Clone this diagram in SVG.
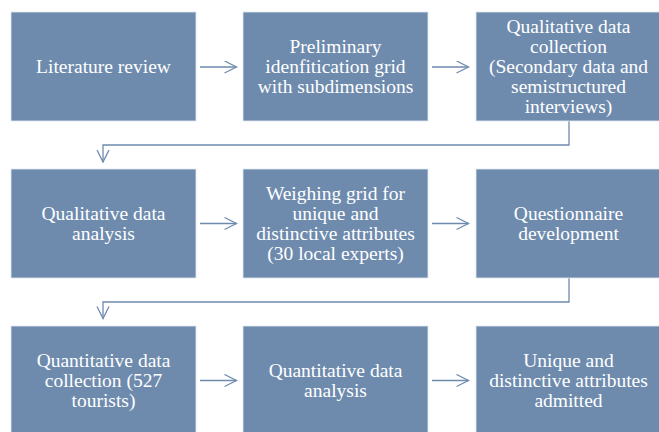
<svg xmlns="http://www.w3.org/2000/svg" width="659" height="432" viewBox="0 0 659 432">
<style>
.box{fill:#6E8BAE;stroke:#E4EAF2;stroke-width:0.8}
.t{font-family:'Liberation Serif','Times New Roman',Times,serif;font-size:19.5px;fill:#FFFFFF;text-anchor:middle}
.c{fill:none;stroke:#6E8BAE;stroke-width:1.3}
</style>
<defs>
<marker id="ah" markerUnits="userSpaceOnUse" markerWidth="14" markerHeight="14" refX="12.5" refY="6.5" orient="auto" viewBox="0 0 14 14">
<path d="M0.5,0.5 L12.5,6.5 L0.5,12.5" fill="none" stroke="#6E8BAE" stroke-width="1.3"/>
</marker>
</defs>
<rect width="659" height="432" fill="#FFFFFF"/>
<g id="connectors">
<line class="c" x1="200" y1="67" x2="236.5" y2="67" marker-end="url(#ah)"/>
<line class="c" x1="432" y1="67" x2="468.5" y2="67" marker-end="url(#ah)"/>
<polyline class="c" points="569,121 569,145 103,145 103,162" marker-end="url(#ah)"/>
<line class="c" x1="200" y1="223.5" x2="236.5" y2="223.5" marker-end="url(#ah)"/>
<line class="c" x1="432" y1="223.5" x2="468.5" y2="223.5" marker-end="url(#ah)"/>
<polyline class="c" points="569,278 569,302 103,302 103,318.5" marker-end="url(#ah)"/>
<line class="c" x1="200" y1="380.5" x2="236.5" y2="380.5" marker-end="url(#ah)"/>
<line class="c" x1="432" y1="380.5" x2="468.5" y2="380.5" marker-end="url(#ah)"/>
</g>
<g font-family="'Liberation Serif', 'DejaVu Serif', serif">
<g id="n1"><rect class="box" x="11" y="12" width="185" height="109"/>
<text class="t" x="103.5" y="72.5">Literature review</text></g>
<g id="n2"><rect class="box" x="243" y="12" width="185" height="109"/>
<text class="t" x="335.5" y="52.5">Preliminary</text>
<text class="t" x="335.5" y="72.5">idenfitication grid</text>
<text class="t" x="335.5" y="92.5">with subdimensions</text></g>
<g id="n3"><rect class="box" x="476" y="12" width="185" height="109"/>
<text class="t" x="568.5" y="32.5">Qualitative data</text>
<text class="t" x="568.5" y="52.5">collection</text>
<text class="t" x="568.5" y="72.5">(Secondary data and</text>
<text class="t" x="568.5" y="92.5">semistructured</text>
<text class="t" x="568.5" y="112.5">interviews)</text></g>
<g id="n4"><rect class="box" x="11" y="169" width="185" height="109"/>
<text class="t" x="103.5" y="219.5">Qualitative data</text>
<text class="t" x="103.5" y="239.5">analysis</text></g>
<g id="n5"><rect class="box" x="243" y="169" width="185" height="109"/>
<text class="t" x="335.5" y="199.5">Weighing grid for</text>
<text class="t" x="335.5" y="219.5">unique and</text>
<text class="t" x="335.5" y="239.5">distinctive attributes</text>
<text class="t" x="335.5" y="259.5">(30 local experts)</text></g>
<g id="n6"><rect class="box" x="476" y="169" width="185" height="109"/>
<text class="t" x="568.5" y="219.5">Questionnaire</text>
<text class="t" x="568.5" y="239.5">development</text></g>
<g id="n7"><rect class="box" x="11" y="326" width="185" height="109"/>
<text class="t" x="103.5" y="366.5">Quantitative data</text>
<text class="t" x="103.5" y="386.5">collection (527</text>
<text class="t" x="103.5" y="406.5">tourists)</text></g>
<g id="n8"><rect class="box" x="243" y="326" width="185" height="109"/>
<text class="t" x="335.5" y="376.5">Quantitative data</text>
<text class="t" x="335.5" y="396.5">analysis</text></g>
<g id="n9"><rect class="box" x="476" y="326" width="185" height="109"/>
<text class="t" x="568.5" y="366.5">Unique and</text>
<text class="t" x="568.5" y="386.5">distinctive attributes</text>
<text class="t" x="568.5" y="406.5">admitted</text></g>
</g>
</svg>
